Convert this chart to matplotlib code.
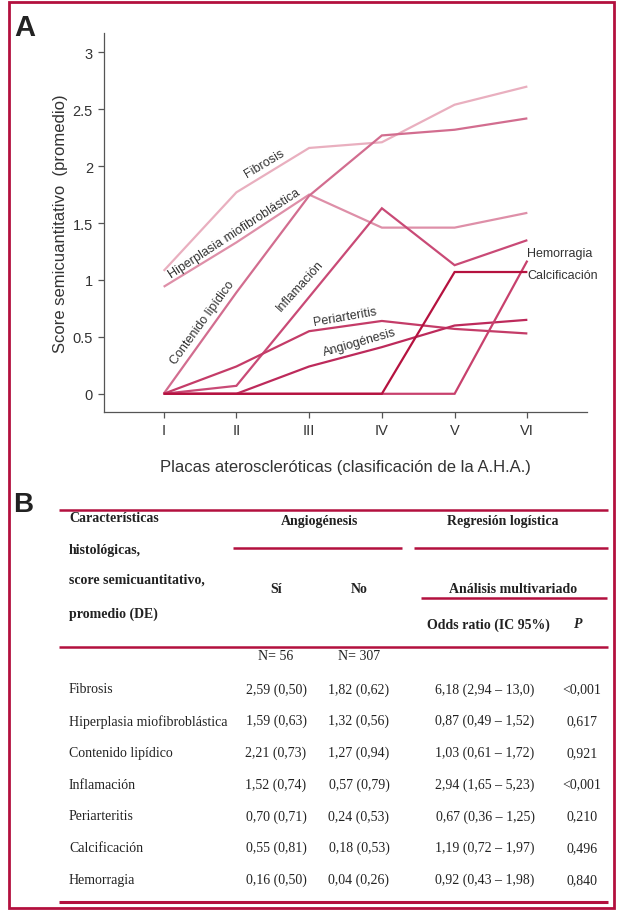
import matplotlib.pyplot as plt
from matplotlib.patches import Rectangle

# ---- panel A data: mean semiquantitative score per AHA plaque class
stages = ['I', 'II', 'III', 'IV', 'V', 'VI']
fibrosis      = [1.08, 1.77, 2.16, 2.21, 2.54, 2.70]
hiperplasia   = [0.94, 1.33, 1.75, 1.46, 1.46, 1.59]
contenido     = [0.00, 0.89, 1.74, 2.27, 2.32, 2.42]
inflamacion   = [0.00, 0.07, 0.85, 1.63, 1.13, 1.35]
periarteritis = [0.00, 0.24, 0.55, 0.64, 0.57, 0.53]
angiogenesis  = [0.00, 0.00, 0.24, 0.41, 0.60, 0.65]
hemorragia    = [0.00, 0.00, 0.00, 0.00, 0.00, 1.17]
calcificacion = [0.00, 0.00, 0.00, 0.00, 1.07, 1.07]

# ---- panel B data: table
row_names = ['Fibrosis', 'Hiperplasia miofibroblástica', 'Contenido lipídico',
             'Inflamación', 'Periarteritis', 'Calcificación', 'Hemorragia']
col_si = ['2,59 (0,50)', '1,59 (0,63)', '2,21 (0,73)', '1,52 (0,74)',
          '0,70 (0,71)', '0,55 (0,81)', '0,16 (0,50)']
col_no = ['1,82 (0,62)', '1,32 (0,56)', '1,27 (0,94)', '0,57 (0,79)',
          '0,24 (0,53)', '0,18 (0,53)', '0,04 (0,26)']
col_or = ['6,18 (2,94 – 13,0)', '0,87 (0,49 – 1,52)', '1,03 (0,61 – 1,72)',
          '2,94 (1,65 – 5,23)', '0,67 (0,36 – 1,25)', '1,19 (0,72 – 1,97)',
          '0,92 (0,43 – 1,98)']
col_p = ['<0,001', '0,617', '0,921', '<0,001', '0,210', '0,496', '0,840']

W, H = 618, 912
red = '#b3103e'
sans = 'Liberation Sans'
serif = 'Liberation Serif'

fig = plt.figure(figsize=(W/100, H/100), dpi=100)

# chart axes
ax = fig.add_axes([104/W, 1-413/H, (587-104)/W, (413-34)/H])
x = range(1, 7)
series = [(fibrosis, '#e9afbf'), (hiperplasia, '#de8fa8'), (contenido, '#d26d8f'),
          (inflamacion, '#c94a76'), (periarteritis, '#c43c68'), (angiogenesis, '#bd2a5b'),
          (hemorragia, '#c8416d'), (calcificacion, '#b5123f')]
for vals, c in series:
    ax.plot(x, vals, color=c, lw=1.6, solid_capstyle='butt', solid_joinstyle='miter')

ax.set_xlim(0.18, 6.82)
ax.set_ylim(-0.16, 3.17)
ax.set_xticks(list(x))
ax.set_xticklabels(stages)
ax.set_yticks([0, 0.5, 1, 1.5, 2, 2.5, 3])
ax.set_yticklabels(['0', '0.5', '1', '1.5', '2', '2.5', '3'])
for s in ['top', 'right']:
    ax.spines[s].set_visible(False)
for s in ['left', 'bottom']:
    ax.spines[s].set_color('#555555')
    ax.spines[s].set_linewidth(0.9)
ax.tick_params(colors='#555555', labelcolor='#333333', length=4, width=0.9, pad=4,
               labelsize=10.5)
for lab in ax.get_xticklabels() + ax.get_yticklabels():
    lab.set_family(sans)
ax.set_xlabel('Placas ateroscleróticas (clasificación de la A.H.A.)', family=sans,
              fontsize=12, color='#333333', labelpad=16)
ax.set_ylabel('Score semicuantitativo  (promedio)', family=sans, fontsize=12,
              color='#333333', labelpad=3)

lab_kw = dict(family=sans, fontsize=9, color='#333333', ha='center', va='center',
              rotation_mode='anchor')
ax.text(2.38, 2.03, 'Fibrosis', rotation=31, **lab_kw)
ax.text(1.97, 1.41, 'Hiperplasia miofibroblástica', rotation=33, **lab_kw)
ax.text(1.53, 0.63, 'Contenido lipídico', rotation=54, **lab_kw)
ax.text(2.88, 0.95, 'Inflamación', rotation=48, **lab_kw)
ax.text(3.50, 0.68, 'Periarteritis', rotation=10, **lab_kw)
ax.text(3.69, 0.46, 'Angiogénesis', rotation=16, **lab_kw)
ax.text(6.0, 1.24, 'Hemorragia', family=sans, fontsize=9, color='#333333', va='center')
ax.text(6.0, 1.04, 'Calcificación', family=sans, fontsize=9, color='#333333', va='center')

# overlay in pixel coordinates for frame, letters and table
ov = fig.add_axes([0, 0, 1, 1], zorder=-1)
ov.set_xlim(0, W)
ov.set_ylim(H, 0)
ov.axis('off')
ov.add_patch(Rectangle((9, 3), 605, 906, fill=False, ec=red, lw=2))
ov.text(14, 28, 'A', family=sans, fontweight='bold', fontsize=21, color='#222222', va='center')
ov.text(13, 505, 'B', family=sans, fontweight='bold', fontsize=20, color='#222222', va='center')

def rule(x0, x1, y, lw=1.8):
    ov.plot([x0, x1], [y, y], color=red, lw=lw, solid_capstyle='butt')

rule(59, 608, 511)
rule(233, 402, 549)
rule(414, 608, 549)
rule(421, 607, 599)
rule(59, 608, 648)
rule(59, 608, 903, lw=2.2)

hb = dict(family=serif, fontweight='bold', fontsize=10, color='#222222', va='center')
for t, yy in [('Características', 519), ('histológicas,', 551),
              ('score semicuantitativo,', 580), ('promedio (DE)', 614)]:
    ov.text(69, yy, t, **hb)
ov.text(320, 522, 'Angiogénesis', ha='center', **hb)
ov.text(503, 522, 'Regresión logística', ha='center', **hb)
ov.text(276, 590, 'Sí', ha='center', **hb)
ov.text(359, 590, 'No', ha='center', **hb)
ov.text(513, 590, 'Análisis multivariado', ha='center', **hb)
ov.text(488, 625, 'Odds ratio (IC 95%)', ha='center', **hb)
ov.text(578, 625, 'P', ha='center', style='italic', **hb)

rb = dict(family=serif, fontsize=10, color='#222222', va='center')
ov.text(276, 657, 'N= 56', ha='center', **rb)
ov.text(359, 657, 'N= 307', ha='center', **rb)
for i, name in enumerate(row_names):
    yy = 690 + i * 31.7
    ov.text(69, yy, name, **rb)
    ov.text(276, yy, col_si[i], ha='center', **rb)
    ov.text(359, yy, col_no[i], ha='center', **rb)
    ov.text(485, yy, col_or[i], ha='center', **rb)
    ov.text(582, yy, col_p[i], ha='center', **rb)

fig.savefig('out.png', dpi=100)
